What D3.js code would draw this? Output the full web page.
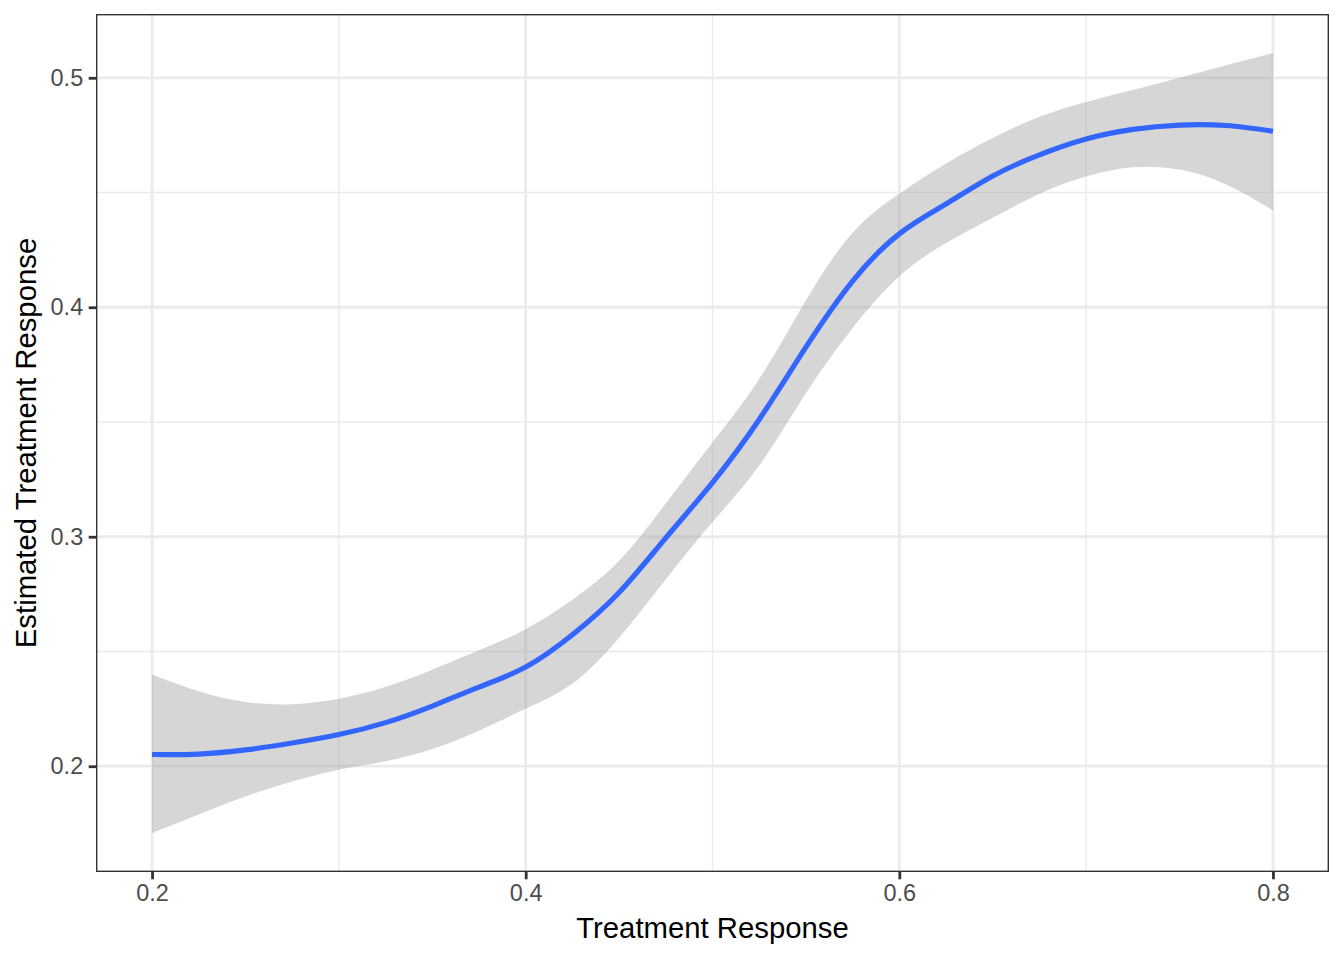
<!DOCTYPE html>
<html>
<head>
<meta charset="utf-8">
<script src="https://cdn.jsdelivr.net/npm/d3@7"></script>
<style>
  html, body { margin: 0; padding: 0; background: #fff; }
  svg { display: block; font-family: "Liberation Sans", Arial, Helvetica, sans-serif; }
</style>
</head>
<body>
<svg id="chart" width="1344" height="960"></svg>
<script>
// ---- data ----
const xValues     = [0.2, 0.225, 0.25, 0.275, 0.3, 0.325, 0.35, 0.375, 0.4, 0.425, 0.45, 0.475, 0.5, 0.525, 0.55, 0.575, 0.6, 0.625, 0.65, 0.675, 0.7, 0.725, 0.75, 0.775, 0.8];
const fitValues   = [0.2051, 0.2053, 0.2071, 0.2101, 0.2138, 0.2190, 0.2262, 0.2345, 0.2432, 0.2573, 0.2757, 0.2995, 0.3236, 0.3511, 0.3826, 0.4114, 0.4320, 0.4450, 0.4572, 0.4664, 0.4733, 0.4775, 0.4794, 0.4792, 0.4767];
const upperValues = [0.2400, 0.2327, 0.2280, 0.2270, 0.2294, 0.2345, 0.2420, 0.2505, 0.2597, 0.2725, 0.2895, 0.3145, 0.3411, 0.3687, 0.4030, 0.4325, 0.4495, 0.4626, 0.4738, 0.4830, 0.4895, 0.4947, 0.5000, 0.5055, 0.5108];
const lowerValues = [0.1709, 0.1790, 0.1868, 0.1933, 0.1985, 0.2022, 0.2075, 0.2155, 0.2250, 0.2360, 0.2560, 0.2815, 0.3064, 0.3310, 0.3625, 0.3910, 0.4135, 0.4280, 0.4390, 0.4495, 0.4570, 0.4610, 0.4600, 0.4535, 0.4422];
const xTicks = [0.2, 0.4, 0.6, 0.8];
const xMinorTicks = [0.3, 0.5, 0.7];
const yTicks = [0.2, 0.3, 0.4, 0.5];
const yMinorTicks = [0.25, 0.35, 0.45];
const xTitle = "Treatment Response";
const yTitle = "Estimated Treatment Response";

// ---- layout ----
const svg = d3.select("#chart");
const panel = { left: 96, top: 14, right: 1329, bottom: 872 };

const xExt = d3.extent(xValues);
const xPad = (xExt[1] - xExt[0]) * 0.05;
const x = d3.scaleLinear().domain([xExt[0] - xPad, xExt[1] + xPad]).range([panel.left, panel.right]);
const yMin = d3.min(lowerValues), yMax = d3.max(upperValues);
const yPad = (yMax - yMin) * 0.05;
const y = d3.scaleLinear().domain([yMin - yPad, yMax + yPad]).range([panel.bottom, panel.top]);

const data = xValues.map((v, i) => ({ x: v, fit: fitValues[i], lo: lowerValues[i], hi: upperValues[i] }));

svg.append("defs").append("clipPath").attr("id", "clip")
  .append("rect").attr("x", panel.left).attr("y", panel.top)
  .attr("width", panel.right - panel.left).attr("height", panel.bottom - panel.top);

const g = svg.append("g").attr("clip-path", "url(#clip)");

g.append("rect").attr("x", panel.left).attr("y", panel.top)
  .attr("width", panel.right - panel.left).attr("height", panel.bottom - panel.top)
  .attr("fill", "#fff");

// minor grid
g.selectAll(".xminor").data(xMinorTicks).join("line")
  .attr("x1", d => x(d)).attr("x2", d => x(d))
  .attr("y1", panel.top).attr("y2", panel.bottom)
  .attr("stroke", "#EBEBEB").attr("stroke-width", 1.4);
g.selectAll(".yminor").data(yMinorTicks).join("line")
  .attr("y1", d => y(d)).attr("y2", d => y(d))
  .attr("x1", panel.left).attr("x2", panel.right)
  .attr("stroke", "#EBEBEB").attr("stroke-width", 1.4);
// major grid
g.selectAll(".xmajor").data(xTicks).join("line")
  .attr("x1", d => x(d)).attr("x2", d => x(d))
  .attr("y1", panel.top).attr("y2", panel.bottom)
  .attr("stroke", "#EBEBEB").attr("stroke-width", 2.8);
g.selectAll(".ymajor").data(yTicks).join("line")
  .attr("y1", d => y(d)).attr("y2", d => y(d))
  .attr("x1", panel.left).attr("x2", panel.right)
  .attr("stroke", "#EBEBEB").attr("stroke-width", 2.8);

// ribbon
const curve = d3.curveNatural;
const area = d3.area().x(d => x(d.x)).y0(d => y(d.lo)).y1(d => y(d.hi)).curve(curve);
g.append("path").datum(data).attr("d", area).attr("fill", "#999999").attr("fill-opacity", 0.4);

// fit line
const line = d3.line().x(d => x(d.x)).y(d => y(d.fit)).curve(curve);
g.append("path").datum(data).attr("d", line).attr("fill", "none")
  .attr("stroke", "#3366FF").attr("stroke-width", 5.2).attr("stroke-linejoin", "round");

// border
svg.append("rect").attr("x", panel.left + 0.7).attr("y", panel.top + 0.7)
  .attr("width", panel.right - panel.left - 1.4).attr("height", panel.bottom - panel.top - 1.4)
  .attr("fill", "none").attr("stroke", "#333333").attr("stroke-width", 1.4);

// axes
const xAxis = d3.axisBottom(x).tickValues(xTicks).tickSize(7.3).tickPadding(5.5).tickFormat(d3.format(".1f"));
const xg = svg.append("g").attr("transform", `translate(0,${panel.bottom})`).call(xAxis);
xg.select(".domain").remove();
xg.selectAll(".tick line").attr("stroke", "#333333").attr("stroke-width", 2.8);
xg.selectAll(".tick text").attr("fill", "#4D4D4D").style("font-size", "23.5px")
  .style("font-family", '"Liberation Sans", Arial, sans-serif');

const yAxis = d3.axisLeft(y).tickValues(yTicks).tickSize(7.3).tickPadding(5.5).tickFormat(d3.format(".1f"));
const yg = svg.append("g").attr("transform", `translate(${panel.left},0)`).call(yAxis);
yg.select(".domain").remove();
yg.selectAll(".tick line").attr("stroke", "#333333").attr("stroke-width", 2.8);
yg.selectAll(".tick text").attr("fill", "#4D4D4D").style("font-size", "23.5px")
  .style("font-family", '"Liberation Sans", Arial, sans-serif');

// titles
svg.append("text").attr("x", (panel.left + panel.right) / 2).attr("y", 938)
  .attr("text-anchor", "middle").attr("fill", "#000").style("font-size", "29.3px")
  .text(xTitle);
svg.append("text").attr("transform", `translate(36,${(panel.top + panel.bottom) / 2}) rotate(-90)`)
  .attr("text-anchor", "middle").attr("fill", "#000").style("font-size", "29.3px")
  .text(yTitle);
</script>
</body>
</html>
